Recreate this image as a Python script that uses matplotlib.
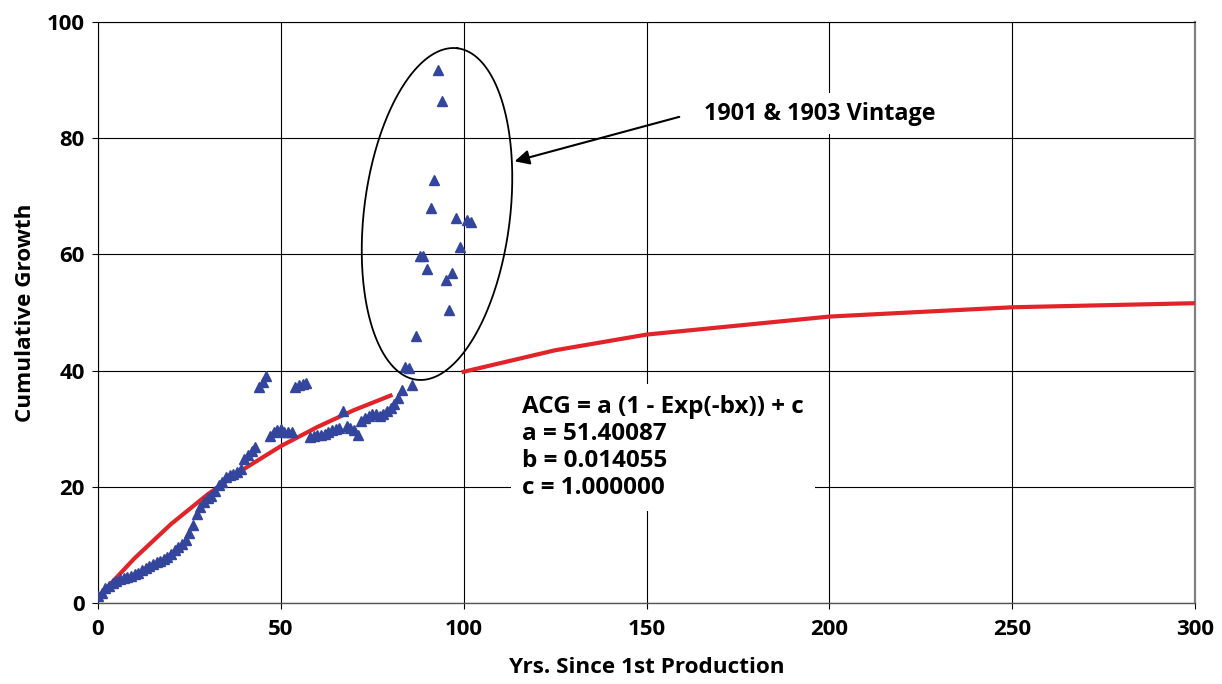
import numpy as np
import matplotlib
matplotlib.use('Agg')
import matplotlib.pyplot as plt

plt.rcParams['font.family'] = ['Open Sans', 'DejaVu Sans']
plt.rcParams['font.weight'] = 'bold'

# yearly cumulative growth
main_x = [0, 1, 2, 3, 4, 5, 6, 7, 8, 9, 10, 11, 12, 13, 14, 15, 16, 17, 18, 19,
          20, 21, 22, 23, 24, 25, 26, 27, 28, 29, 30, 31, 32, 33, 34, 35, 36, 37, 38, 39,
          40, 41, 42, 43, 44, 45, 46, 47, 48, 49, 50, 51, 52, 53, 54, 55, 56, 57, 58, 59,
          60, 61, 62, 63, 64, 65, 66, 67, 68, 69, 70, 71, 72, 73, 74, 75, 76, 77, 78, 79,
          80, 81, 82, 83, 86]
main_y = [1.2, 1.8, 2.5, 3.0, 3.4, 3.8, 4.1, 4.3, 4.5, 4.7, 5.0, 5.1, 5.6, 6.1, 6.4, 6.7, 7.0, 7.2, 7.6, 8.0,
          8.5, 9.1, 9.6, 10.2, 10.8, 12.0, 13.5, 15.4, 16.6, 17.4, 18.1, 18.5, 19.3, 20.3, 20.8, 21.7, 22.0, 22.2, 22.6, 23.1,
          24.8, 25.5, 26.2, 26.8, 37.2, 38.0, 39.1, 28.8, 29.4, 29.7, 29.9, 29.5, 29.4, 29.4, 37.2, 37.6, 37.7, 37.8, 28.5, 28.7,
          28.9, 29.0, 29.1, 29.4, 29.7, 29.9, 30.2, 33.1, 30.5, 30.2, 29.7, 29.0, 31.4, 31.9, 32.2, 32.5, 32.5, 32.2, 32.5, 33.1,
          33.5, 34.3, 35.3, 36.7, 37.6]

# 1901 & 1903 vintage points
vint_x = [84.0, 85.1, 87.1, 88.1, 89.0, 90.1, 91.0, 91.9, 93.1, 94.0, 95.1, 96.0, 96.9, 98.0, 99.0, 100.8, 101.9]
vint_y = [40.7, 40.5, 45.9, 59.7, 59.7, 57.5, 68.0, 72.8, 91.7, 86.4, 55.6, 50.5, 56.8, 66.3, 61.3, 65.9, 65.6]

# fitted ACG curve, two pieces
fit1_x = [0, 10, 20, 30, 40, 50, 60, 70, 80]
fit1_y = [1.0, 7.7, 13.6, 18.7, 23.1, 27.0, 30.3, 33.2, 35.7]
fit2_x = [100, 125, 150, 200, 250, 300]
fit2_y = [39.8, 43.5, 46.2, 49.3, 50.9, 51.6]

x_ticks = [0, 50, 100, 150, 200, 250, 300]
y_ticks = [0, 20, 40, 60, 80, 100]

W, H = 1222, 684
fig = plt.figure(figsize=(W / 100, H / 100), dpi=100)
L, R, T, B = 98, 1195, 22, 603
ax = fig.add_axes([L / W, 1 - B / H, (R - L) / W, (B - T) / H])
ax.set_xlim(0, 300)
ax.set_ylim(0, 100)

ax.grid(True, color='black', linewidth=0.8)
ax.set_axisbelow(True)

ax.plot(fit1_x, fit1_y, color='#e0242a', lw=3.0, zorder=3)
ax.plot(fit2_x, fit2_y, color='#e0242a', lw=3.0, zorder=3)
ax.plot(main_x, main_y, '^', color='#33459c', ms=7, mec='#33459c', zorder=4, ls='none')
ax.plot(vint_x, vint_y, '^', color='#33459c', ms=7, mec='#33459c', zorder=4, ls='none')

# ellipse round the vintage points, built in pixel space then mapped to data
pxx = (R - L) / 300.0
pxy = (B - T) / 100.0
t = np.linspace(0, 2 * np.pi, 300)
phi = np.radians(7)
A, Bm = 167, 73
dx = A * np.cos(t) * np.sin(phi) + Bm * np.sin(t) * np.cos(phi)
dy = A * np.cos(t) * np.cos(phi) - Bm * np.sin(t) * np.sin(phi)
cx, cy = (437 - L) / pxx, (B - 214) / pxy
ax.plot(cx + dx / pxx, cy + dy / pxy, color='black', lw=1.3, zorder=5)

ax.annotate('', xy=(113.2, 75.9), xytext=(159.7, 83.8),
            arrowprops=dict(arrowstyle='-|>', color='black', lw=1.5, mutation_scale=22),
            zorder=6)
ax.text(165.7, 84.2, '1901 & 1903 Vintage', fontsize=16.8, fontweight='bold',
        ha='left', va='center',
        bbox=dict(facecolor='white', edgecolor='none', pad=6), zorder=6)

ax.text(116.0, 35.8, 'ACG = a (1 - Exp(-bx)) + c\na = 51.40087\nb = 0.014055\nc = 1.000000',
        fontsize=17.5, fontweight='bold', ha='left', va='top', linespacing=1.17,
        bbox=dict(facecolor='white', edgecolor='none', pad=8), zorder=6)

ax.set_xticks(x_ticks)
ax.set_yticks(y_ticks)
ax.tick_params(direction='out', length=4.5, width=0.8, labelsize=16, pad=5)
ax.tick_params(axis='x', pad=7)
for lab in ax.get_xticklabels() + ax.get_yticklabels():
    lab.set_fontweight('bold')

for s in ['left', 'top']:
    ax.spines[s].set_color('black')
    ax.spines[s].set_linewidth(0.8)
ax.spines['bottom'].set_color('#555555')
ax.spines['bottom'].set_linewidth(1.0)
ax.spines['right'].set_color('#808080')
ax.spines['right'].set_linewidth(1.6)

ax.set_xlabel('Yrs. Since 1st Production', fontsize=16.2, fontweight='bold')
ax.set_ylabel('Cumulative Growth', fontsize=16.2, fontweight='bold')
ax.xaxis.set_label_coords(0.5, -0.093)
ax.yaxis.set_label_coords(-0.0565, 0.5)

fig.savefig('out.png', dpi=100)
